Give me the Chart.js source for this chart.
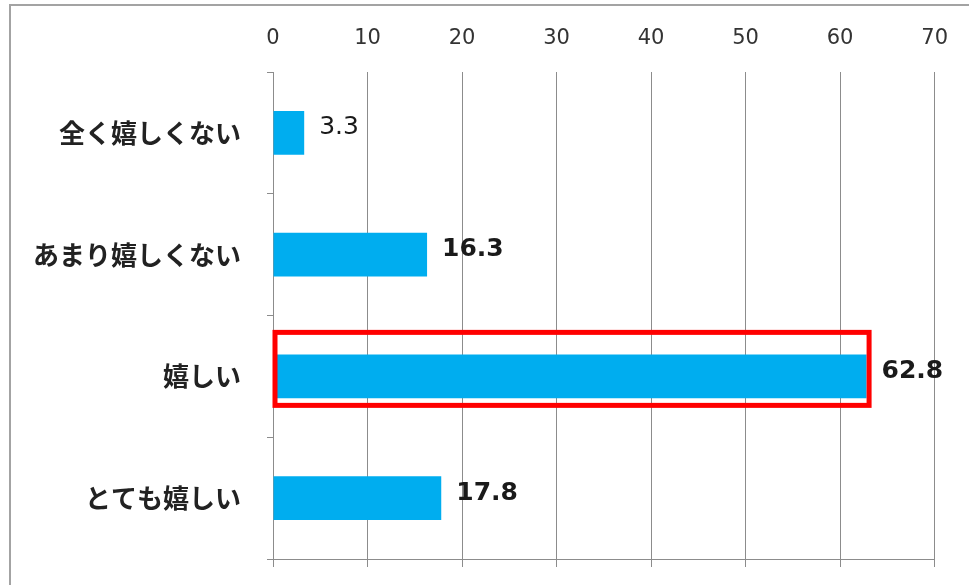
<!DOCTYPE html>
<html>
<head>
<meta charset="utf-8">
<script src="https://cdn.jsdelivr.net/npm/chart.js@4/dist/chart.umd.min.js"></script>
<style>
  html, body { margin: 0; padding: 0; background: #fff; overflow: hidden; }
  #wrap { position: relative; width: 969px; height: 585px; }
  #frame {
    position: absolute; left: 9px; top: 4px; width: 1000px; height: 1000px;
    border: 2px solid #a3a3a3; pointer-events: none;
  }
  canvas { position: absolute; left: 0; top: 0; }
</style>
</head>
<body>
<div id="wrap">
  <canvas id="chart" width="969" height="585"></canvas>
  <div id="frame"></div>
</div>
<script>
const categories = ["全く嬉しくない", "あまり嬉しくない", "嬉しい", "とても嬉しい"];
const values = [3.3, 16.3, 62.8, 17.8];
const xMin = 0;
const xMax = 70;
const xStep = 10;
const highlightIndex = 2;

const gridColor = "#8c8c8c";
const barColor = "#00adef";

// value labels at the end of each bar
const valueLabels = {
  id: "valueLabels",
  afterDatasetsDraw(chart) {
    const ctx = chart.ctx;
    const meta = chart.getDatasetMeta(0);
    ctx.save();
    ctx.fillStyle = "#1a1a1a";
    ctx.textAlign = "left";
    ctx.textBaseline = "middle";
    meta.data.forEach((bar, i) => {
      const weight = i === 0 ? "normal" : "bold";
      ctx.font = `${weight} 25px "DejaVu Sans"`;
      ctx.fillText(values[i].toFixed(1), bar.x + 15, bar.y - 5);
    });
    ctx.restore();
  }
};

// red frame round the highlighted bar
const highlightBox = {
  id: "highlightBox",
  afterDatasetsDraw(chart) {
    const bar = chart.getDatasetMeta(0).data[highlightIndex];
    if (!bar) return;
    const ctx = chart.ctx;
    ctx.save();
    ctx.strokeStyle = "#ff0000";
    ctx.lineWidth = 5;
    ctx.strokeRect(bar.base + 1.5, bar.y - 44, bar.x - bar.base + 1, 73);
    ctx.restore();
  }
};

new Chart(document.getElementById("chart"), {
  type: "bar",
  data: {
    labels: categories,
    datasets: [{
      data: values,
      backgroundColor: barColor,
      borderWidth: 0,
      categoryPercentage: 1,
      barPercentage: 0.36
    }]
  },
  options: {
    indexAxis: "y",
    responsive: false,
    animation: false,
    devicePixelRatio: 1,
    layout: { padding: { top: 0, right: 32, bottom: 0, left: 0 } },
    plugins: {
      legend: { display: false },
      tooltip: { enabled: false }
    },
    scales: {
      x: {
        type: "linear",
        position: "top",
        min: xMin,
        max: xMax,
        ticks: {
          stepSize: xStep,
          color: "#333",
          font: { family: "DejaVu Sans", size: 21 },
          padding: 21
        },
        grid: { color: gridColor, lineWidth: 1, drawTicks: false },
        border: { display: false },
        afterFit: (s) => { s.height = 72; }
      },
      x2: {
        type: "linear",
        position: "bottom",
        min: xMin,
        max: xMax,
        ticks: { stepSize: xStep, display: false },
        grid: { drawOnChartArea: false, color: gridColor, tickLength: 8 },
        border: { display: true, color: gridColor },
        afterFit: (s) => { s.height = 26; }
      },
      y: {
        type: "category",
        offset: true,
        ticks: {
          color: "#222",
          font: { family: "Noto Sans CJK JP", size: 26, weight: "bold" },
          padding: 26
        },
        grid: { drawOnChartArea: false, offset: true, color: gridColor, tickLength: 6 },
        border: { display: true, color: gridColor },
        afterFit: (s) => {
          s.width = 273;
          s.paddingTop = 0;
          s.paddingBottom = 0;
        }
      }
    }
  },
  plugins: [valueLabels, highlightBox]
});
</script>
</body>
</html>
